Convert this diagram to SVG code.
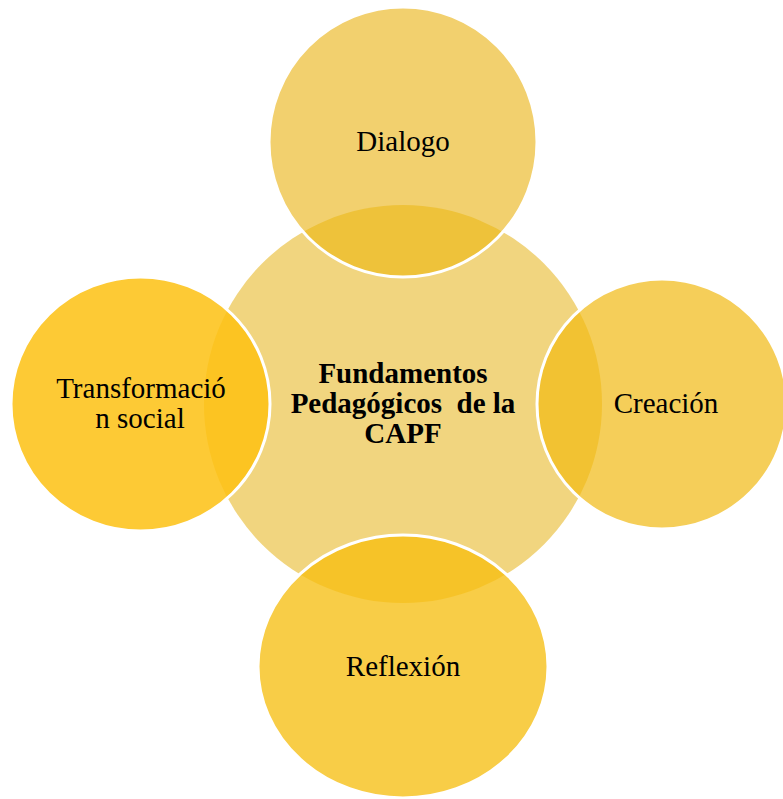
<svg xmlns="http://www.w3.org/2000/svg" width="783" height="799" viewBox="0 0 783 799">
  <style>
    .lbl { font-family: "Liberation Serif", "Times New Roman", serif; font-size: 29px; fill: #000; text-anchor: middle; }
    .bold { font-weight: bold; white-space: pre; }
    .ring { fill: none; stroke: #ffffff; stroke-width: 3; }
  </style>
  <defs>
    <ellipse id="centerShape" cx="403" cy="404" rx="199" ry="199"/>
    <clipPath id="clipTop"><ellipse cx="403" cy="142" rx="134" ry="135"/></clipPath>
    <clipPath id="clipLeft"><ellipse cx="140.5" cy="404" rx="129.5" ry="127"/></clipPath>
    <clipPath id="clipRight"><ellipse cx="662" cy="404" rx="125" ry="125"/></clipPath>
    <clipPath id="clipBottom"><ellipse cx="403" cy="666.5" rx="145" ry="131.5"/></clipPath>
  </defs>
  <rect width="783" height="799" fill="#ffffff"/>

  <g id="center">
    <use href="#centerShape" fill="#F1D57F"/>
  </g>

  <g id="dialogo">
    <ellipse cx="403" cy="142" rx="134" ry="135" fill="#F2D06E"/>
    <use href="#centerShape" fill="#EEC23A" clip-path="url(#clipTop)"/>
    <ellipse class="ring" cx="403" cy="142" rx="134" ry="135"/>
    <text class="lbl" x="403" y="151">Dialogo</text>
  </g>

  <g id="transformacion">
    <ellipse cx="140.5" cy="404" rx="129.5" ry="127" fill="#FDCA35"/>
    <use href="#centerShape" fill="#FCC422" clip-path="url(#clipLeft)"/>
    <ellipse class="ring" cx="140.5" cy="404" rx="129.5" ry="127"/>
    <text class="lbl" x="141" y="398">Transformació</text>
    <text class="lbl" x="140" y="428">n social</text>
  </g>

  <g id="creacion">
    <ellipse cx="662" cy="404" rx="125" ry="125" fill="#F5CE59"/>
    <use href="#centerShape" fill="#F2C232" clip-path="url(#clipRight)"/>
    <ellipse class="ring" cx="662" cy="404" rx="125" ry="125"/>
    <text class="lbl" x="666" y="413">Creación</text>
  </g>

  <g id="reflexion">
    <ellipse cx="403" cy="666.5" rx="145" ry="131.5" fill="#F8CD47"/>
    <use href="#centerShape" fill="#F6C328" clip-path="url(#clipBottom)"/>
    <ellipse class="ring" cx="403" cy="666.5" rx="145" ry="131.5"/>
    <text class="lbl" x="403" y="676">Reflexión</text>
  </g>

  <g id="center-label">
    <text class="lbl bold" x="403" y="383">Fundamentos</text>
    <text class="lbl bold" x="403" y="413">Pedagógicos  de la</text>
    <text class="lbl bold" x="403" y="443">CAPF</text>
  </g>

  <g id="connectors"/>
</svg>
